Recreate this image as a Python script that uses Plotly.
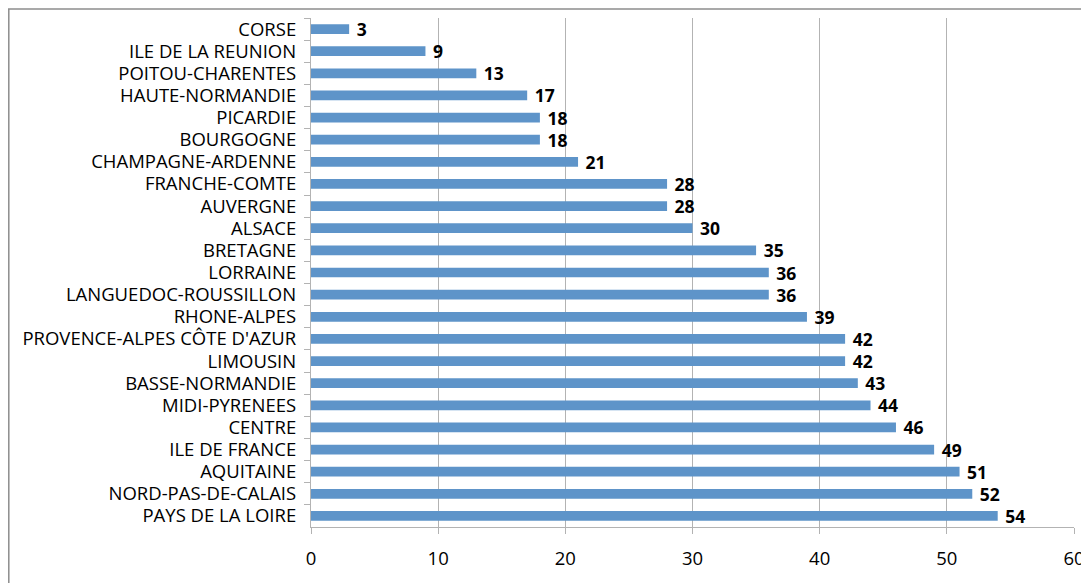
import plotly.graph_objects as go

regions = [
    "CORSE", "ILE DE LA REUNION", "POITOU-CHARENTES", "HAUTE-NORMANDIE",
    "PICARDIE", "BOURGOGNE", "CHAMPAGNE-ARDENNE", "FRANCHE-COMTE",
    "AUVERGNE", "ALSACE", "BRETAGNE", "LORRAINE", "LANGUEDOC-ROUSSILLON",
    "RHONE-ALPES", "PROVENCE-ALPES CÔTE D'AZUR", "LIMOUSIN",
    "BASSE-NORMANDIE", "MIDI-PYRENEES", "CENTRE", "ILE DE FRANCE",
    "AQUITAINE", "NORD-PAS-DE-CALAIS", "PAYS DE LA LOIRE",
]
values = [3, 9, 13, 17, 18, 18, 21, 28, 28, 30, 35, 36, 36, 39, 42, 42,
          43, 44, 46, 49, 51, 52, 54]
x_ticks = [0, 10, 20, 30, 40, 50, 60]

# page has an 8px body margin; compensate so plot lands where the reference is
OFF = 8
W, H = 1089 - OFF, 583 - OFF
ml, mt = 311 - OFF, 18 - OFF
pw = 1074 - 311
ph = 527 - 18
mr = W - ml - pw
mb = H - mt - ph

FONT = "Open Sans"

fig = go.Figure(go.Bar(
    x=values, y=regions, orientation="h",
    marker=dict(color="#5e94c9", line=dict(width=0)),
    text=values, texttemplate=" %{text}", textposition="outside",
    constraintext="none",
    textfont=dict(family=FONT, size=17.5, color="#000000", weight="bold"),
    cliponaxis=False,
))

def px_x(p):
    return (p - OFF - ml) / pw

def px_y(p):
    return 1 - (p - OFF - mt) / ph

border = "#8c8c8c"
fig.update_layout(
    width=W, height=H,
    margin=dict(l=ml, r=mr, t=mt, b=mb, autoexpand=False),
    paper_bgcolor="white", plot_bgcolor="white",
    bargap=0.56,
    showlegend=False,
    font=dict(family=FONT, size=16, color="#000000"),
    shapes=[
        dict(type="line", xref="paper", yref="paper",
             x0=px_x(8), x1=px_x(1095), y0=px_y(9), y1=px_y(9),
             line=dict(color=border, width=1.5)),
        dict(type="line", xref="paper", yref="paper",
             x0=px_x(8.8), x1=px_x(8.8), y0=px_y(9), y1=px_y(600),
             line=dict(color=border, width=1.5)),
    ],
)
fig.update_xaxes(
    range=[0, 60], tickvals=x_ticks, ticktext=[str(v) for v in x_ticks],
    showgrid=True, gridcolor="#b3b3b3", gridwidth=1.2,
    showline=True, linecolor="#b3b3b3", linewidth=1.2,
    ticks="outside", ticklen=6, tickcolor="#b3b3b3",
    tickfont=dict(size=18.5), zeroline=False, ticklabelstandoff=9,
    automargin=False,
)
fig.update_yaxes(
    autorange="reversed", type="category",
    showline=True, linecolor="#b3b3b3", linewidth=1.2,
    ticks="outside", ticklen=6, tickcolor="#b3b3b3", tickson="boundaries",
    showgrid=False, tickfont=dict(size=18.5), ticklabelstandoff=10,
    automargin=False,
)

fig.write_html("out.html")
